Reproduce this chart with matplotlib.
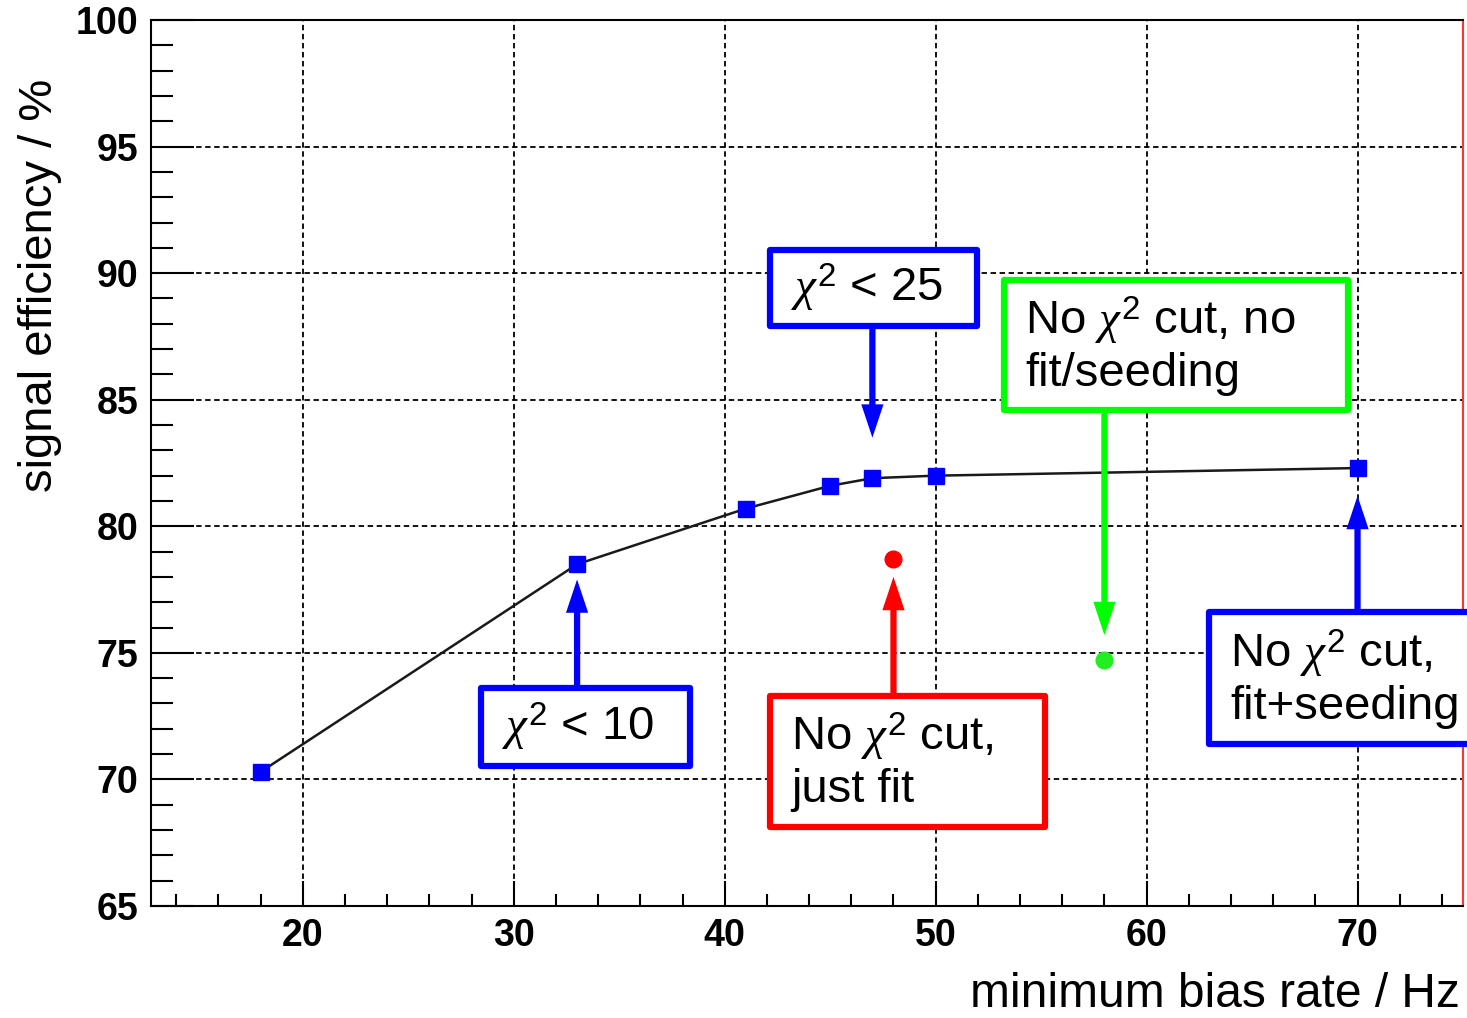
import matplotlib
matplotlib.use('Agg')
import matplotlib.pyplot as plt
from matplotlib.patches import Rectangle
from matplotlib.ticker import MultipleLocator

plt.rcParams['font.family'] = ['Liberation Sans', 'DejaVu Sans']
plt.rcParams['mathtext.fontset'] = 'custom'
plt.rcParams['mathtext.rm'] = 'Liberation Sans'
plt.rcParams['mathtext.it'] = 'Liberation Serif:italic'

# chi2 cut scan (fit + seeding)
rate = [18, 33, 41, 45, 47, 50, 70]
efficiency = [70.3, 78.5, 80.7, 81.6, 81.9, 82.0, 82.3]

# no chi2 cut, just the fit
fit_only_rate = [48]
fit_only_eff = [78.7]

# no chi2 cut, no fit / seeding
no_fit_rate = [58]
no_fit_eff = [74.7]

x_ticks = [20, 30, 40, 50, 60, 70]
y_ticks = [65, 70, 75, 80, 85, 90, 95, 100]

# labelled boxes with an arrow pointing at a working point
notes = [
    dict(text=r'$\chi^2$ < 25', color='#0000ff', x=47, tip=83.5,
         box=(42.14, 87.92, 51.97, 90.92)),
    dict(text='No $\\chi^2$ cut, no\nfit/seeding', color='#00ff00', x=58, tip=75.7,
         box=(53.25, 84.6, 69.55, 89.73)),
    dict(text=r'$\chi^2$ < 10', color='#0000ff', x=33, tip=77.9,
         box=(28.46, 70.53, 38.34, 73.61)),
    dict(text='No $\\chi^2$ cut,\njust fit', color='#ff0000', x=48, tip=78.0,
         box=(42.14, 68.12, 55.2, 73.3)),
    dict(text='No $\\chi^2$ cut,\nfit+seeding', color='#0000ff', x=70, tip=81.2,
         box=(62.95, 71.4, 76.8, 76.62)),
]

fig = plt.figure(figsize=(14.67, 10.18), dpi=100)
ax = fig.add_axes([151 / 1467, 1 - 906 / 1018, 1312 / 1467, 886 / 1018])

ax.plot(rate, efficiency, '-', color='#1a1a1a', lw=1.8, zorder=3)
ax.plot(rate, efficiency, 's', color='#0000ff', ms=11, zorder=4)
ax.plot(fit_only_rate, fit_only_eff, 'o', color='#ff0000', ms=12, zorder=4)
ax.plot(no_fit_rate, no_fit_eff, 'o', color='#22ee22', ms=12, zorder=4)

ax.set_xlim(12.8, 75.0)
ax.set_ylim(65, 100)
ax.set_xticks(x_ticks)
ax.set_yticks(y_ticks)
ax.xaxis.set_minor_locator(MultipleLocator(2))
ax.yaxis.set_minor_locator(MultipleLocator(1))
ax.grid(True, which='major', color='black', linestyle=(0, (3, 2)), linewidth=1.3)

ax.tick_params(which='both', direction='in', width=1.5, labelsize=27, pad=9)
ax.tick_params(axis='y', which='major', length=31)
ax.tick_params(axis='y', which='minor', length=16)
ax.tick_params(axis='x', which='major', length=18)
ax.tick_params(axis='x', which='minor', length=9)
plt.setp(ax.get_xticklabels() + ax.get_yticklabels(), fontweight='bold')

for side in ['left', 'bottom', 'top']:
    ax.spines[side].set_linewidth(1.5)
    ax.spines[side].set_color('black')
ax.spines['right'].set_color('#ff3333')
ax.spines['right'].set_linewidth(1.5)

ax.set_ylabel('signal efficiency / %', fontsize=34)
ax.yaxis.set_label_coords(-0.0846, 0.700)
ax.yaxis.label.set_va('center')
ax.set_xlabel('minimum bias rate / Hz', fontsize=34.5)
ax.xaxis.set_label_coords(0.9977, -0.114)
ax.xaxis.label.set_ha('right')
ax.xaxis.label.set_va('baseline')

for n in notes:
    x0, y0, x1, y1 = n['box']
    # arrow leaves the box on the side facing the point
    start = y0 if n['tip'] < y0 else y1
    ax.annotate('', xy=(n['x'], n['tip']), xytext=(n['x'], start),
                arrowprops=dict(width=4.5, headwidth=16, headlength=24,
                                color=n['color'], linewidth=0, shrink=0),
                zorder=5, annotation_clip=False)
    ax.add_patch(Rectangle((x0, y0), x1 - x0, y1 - y0, facecolor='white',
                           edgecolor=n['color'], linewidth=4.5, joinstyle='round',
                           zorder=6, clip_on=False))
    ax.text(x0 + 1.0, (y0 + y1) / 2, n['text'], fontsize=34, ha='left', va='center',
            linespacing=1.15, zorder=7)

fig.savefig('out.png', dpi=100)
